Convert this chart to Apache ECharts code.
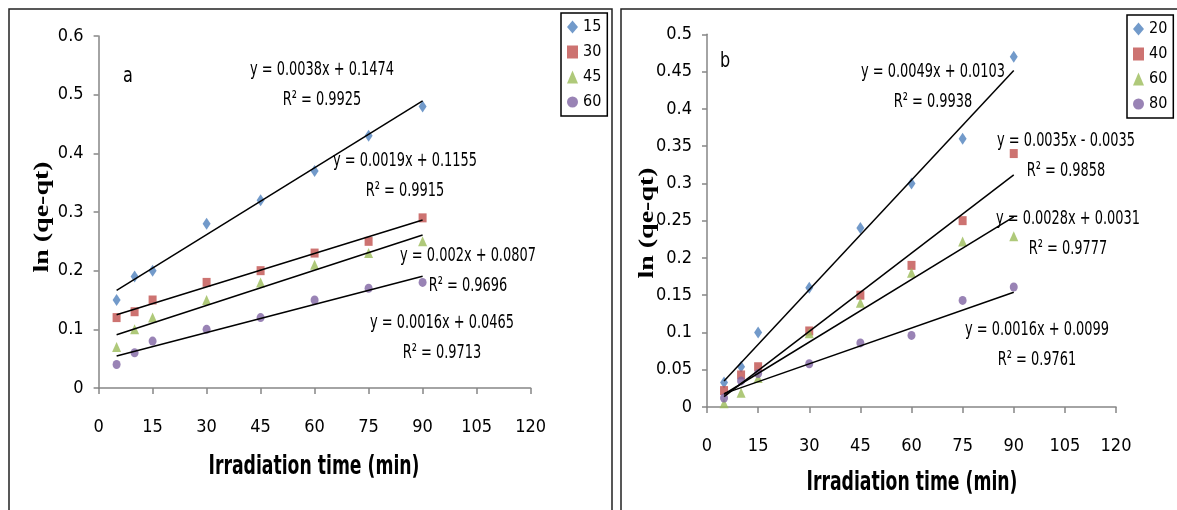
<!DOCTYPE html>
<html>
<head>
<meta charset="utf-8">
<script src="https://cdn.jsdelivr.net/npm/echarts@6/dist/echarts.min.js"></script>
<style>
html, body { margin: 0; padding: 0; background: #fff; }
#chart { width: 1177px; height: 510px; }
</style>
</head>
<body>
<div id="chart"></div>
<script>
var times = [5, 10, 15, 30, 45, 60, 75, 90];

// panel a
var labelsA = ['15', '30', '45', '60'];
var valuesA = [
    [0.15, 0.19, 0.20, 0.28, 0.32, 0.37, 0.43, 0.48],
    [0.12, 0.13, 0.15, 0.18, 0.20, 0.23, 0.25, 0.29],
    [0.07, 0.10, 0.12, 0.15, 0.18, 0.21, 0.23, 0.25],
    [0.04, 0.06, 0.08, 0.10, 0.12, 0.15, 0.17, 0.18]
];
var slopesA = [0.0038, 0.0019, 0.002, 0.0016];
var interceptsA = [0.1474, 0.1155, 0.0807, 0.0465];
var r2A = ['0.9925', '0.9915', '0.9696', '0.9713'];

// panel b
var labelsB = ['20', '40', '60', '80'];
var valuesB = [
    [0.033, 0.054, 0.10, 0.16, 0.24, 0.30, 0.36, 0.47],
    [0.022, 0.043, 0.054, 0.102, 0.15, 0.19, 0.25, 0.34],
    [0.005, 0.019, 0.039, 0.099, 0.14, 0.18, 0.222, 0.229],
    [0.012, 0.035, 0.045, 0.058, 0.086, 0.096, 0.143, 0.161]
];
var slopesB = [0.0049, 0.0035, 0.0028, 0.0016];
var interceptsB = [0.0103, -0.0035, 0.0031, 0.0099];
var r2B = ['0.9938', '0.9858', '0.9777', '0.9761'];

var colors = ['#4F81BD', '#C0504D', '#9BBB59', '#8064A2'];
var symbols = ['diamond', 'rect', 'triangle', 'circle'];
var symbolSizes = [[8, 12], [8, 9], [9, 10], [8, 9]];

// where the equation text sits (centre of the first line)
var eqPosA = [[322, 70], [405, 161], [468, 256], [442, 323]];
var eqPosB = [[933, 72], [1066, 141], [1068, 219], [1037, 330]];

var FONT = '"DejaVu Sans Condensed", "Liberation Sans", sans-serif';

var chart = echarts.init(document.getElementById('chart'));

function eqText(m, b) {
    return 'y = ' + m + 'x ' + (b < 0 ? '- ' + (-b) : '+ ' + b);
}

function makeX(idx) {
    return {
        type: 'value', gridIndex: idx, min: 0, max: 120, interval: 15,
        axisLine: { show: true, onZero: false, lineStyle: { color: '#868686', width: 1.5 } },
        axisTick: { show: true, length: 6, lineStyle: { color: '#868686', width: 1.5 } },
        axisLabel: { margin: 30, fontSize: 18, color: '#000', fontFamily: FONT },
        splitLine: { show: false }
    };
}
function makeY(idx, max, interval) {
    return {
        type: 'value', gridIndex: idx, min: 0, max: max, interval: interval,
        axisLine: { show: true, onZero: false, lineStyle: { color: '#868686', width: 1.5 } },
        axisTick: { show: true, length: 5, lineStyle: { color: '#868686', width: 1.5 } },
        axisLabel: { margin: 15, fontSize: 18, color: '#000', fontFamily: FONT },
        splitLine: { show: false }
    };
}

function txt(x, y, s, font, sx) {
    return { type: 'text', x: x, y: y, scaleX: sx || 1, style: { text: s, font: font, fill: '#000', align: 'center', verticalAlign: 'middle' } };
}

var series = [];
var graphics = [
    { type: 'rect', shape: { x: 9, y: 9, width: 603, height: 530 }, style: { fill: 'none', stroke: '#222', lineWidth: 1.5 } },
    { type: 'rect', shape: { x: 621, y: 9, width: 600, height: 530 }, style: { fill: 'none', stroke: '#222', lineWidth: 1.5 } },
    txt(128, 77, 'a', '21px ' + FONT, 0.85),
    txt(725, 62, 'b', '21px ' + FONT, 0.85),
    { type: 'text', x: 43, y: 217, rotation: Math.PI / 2, scaleY: 0.75, style: { text: 'ln (qe-qt)', font: 'bold 28px "Liberation Serif", serif', fill: '#000', align: 'center', verticalAlign: 'middle' } },
    { type: 'text', x: 648, y: 223, rotation: Math.PI / 2, scaleY: 0.75, style: { text: 'ln (qe-qt)', font: 'bold 28px "Liberation Serif", serif', fill: '#000', align: 'center', verticalAlign: 'middle' } },
    txt(314, 467, 'Irradiation time (min)', 'bold 27px ' + FONT, 0.71),
    txt(912, 483, 'Irradiation time (min)', 'bold 27px ' + FONT, 0.71)
];

function addPanel(prefix, idx, labels, values, slopes, intercepts, r2, eqPos) {
    labels.forEach(function (lab, i) {
        series.push({
            name: prefix + lab,
            type: 'scatter',
            xAxisIndex: idx, yAxisIndex: idx,
            symbol: symbols[i],
            symbolSize: symbolSizes[i],
            itemStyle: { color: colors[i] },
            z: 2,
            data: times.map(function (t, j) { return [t, values[i][j]]; })
        });
        var x0 = times[0], x1 = times[times.length - 1];
        series.push({
            name: prefix + 'fit' + lab,
            type: 'line',
            xAxisIndex: idx, yAxisIndex: idx,
            showSymbol: false, silent: true,
            lineStyle: { color: '#000', width: 1.5 },
            z: 3,
            data: [[x0, slopes[i] * x0 + intercepts[i]], [x1, slopes[i] * x1 + intercepts[i]]]
        });
        graphics.push(txt(eqPos[i][0], eqPos[i][1], eqText(slopes[i], intercepts[i]), '20px ' + FONT, 0.72));
        graphics.push(txt(eqPos[i][0], eqPos[i][1] + 30, 'R\u00B2 = ' + r2[i], '20px ' + FONT, 0.72));
    });
}
addPanel('a', 0, labelsA, valuesA, slopesA, interceptsA, r2A, eqPosA);
addPanel('b', 1, labelsB, valuesB, slopesB, interceptsB, r2B, eqPosB);

function makeLegend(prefix, labels, left, top) {
    return {
        data: labels.map(function (l) { return prefix + l; }),
        formatter: function (n) { return n.slice(1); },
        orient: 'vertical', left: left, top: top,
        itemWidth: 11, itemHeight: 13, itemGap: 9,
        padding: [6, 6, 6, 6],
        borderColor: '#000', borderWidth: 1.5,
        selectedMode: false,
        textStyle: { fontSize: 16, color: '#000', fontFamily: FONT }
    };
}

var option = {
    animation: false,
    grid: [
        { left: 98.6, top: 36, width: 432, height: 352 },
        { left: 707, top: 34.3, width: 409, height: 372.7 }
    ],
    xAxis: [makeX(0), makeX(1)],
    yAxis: [makeY(0, 0.6, 0.1), makeY(1, 0.5, 0.05)],
    legend: [makeLegend('a', labelsA, 561, 13), makeLegend('b', labelsB, 1127, 15)],
    graphic: graphics,
    series: series
};
chart.setOption(option);
</script>
</body>
</html>
